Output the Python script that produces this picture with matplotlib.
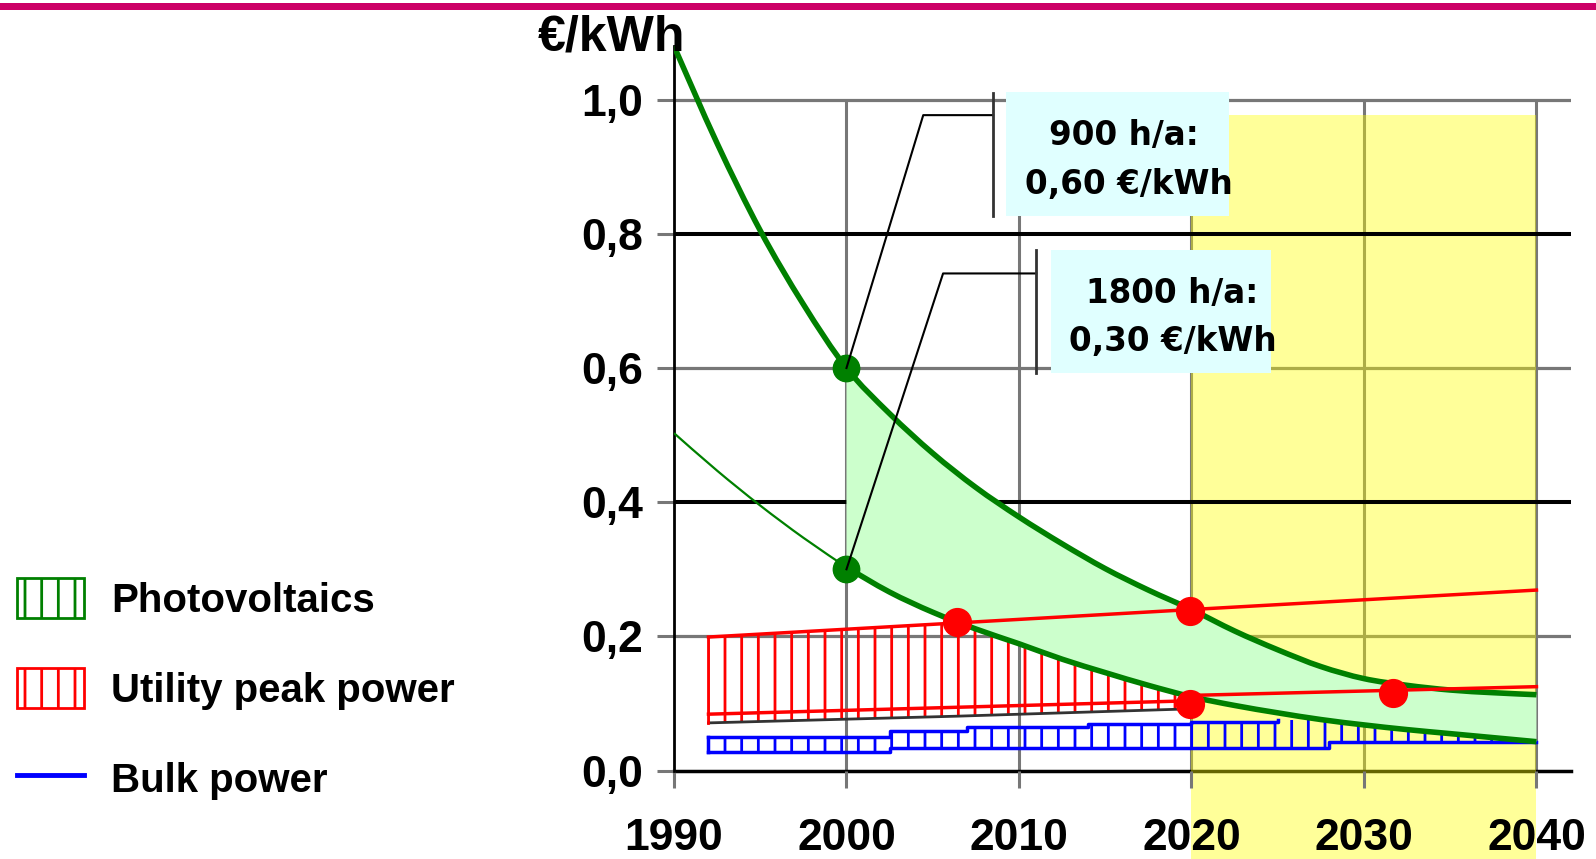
import numpy as np
import matplotlib
matplotlib.use('Agg')
import matplotlib.pyplot as plt
from matplotlib.patches import Patch, Rectangle, PathPatch
from matplotlib.path import Path
from matplotlib.lines import Line2D

plt.rcParams['font.family'] = ['Liberation Sans', 'DejaVu Sans']
plt.rcParams['font.weight'] = 'bold'
plt.rcParams['hatch.linewidth'] = 2.0

# photovoltaics cost curves (EUR/kWh)
pv_years = [1990, 1992.5, 1995, 1997.5, 2000, 2002.5, 2005, 2007.5, 2010, 2012.5, 2015,
            2017.5, 2020, 2022.5, 2025, 2027.5, 2030, 2032.5, 2035, 2037.5, 2040]
pv_900h = [1.08, 0.935, 0.805, 0.695, 0.600, 0.532, 0.473, 0.422, 0.378, 0.338, 0.301,
           0.269, 0.240, 0.208, 0.180, 0.155, 0.137, 0.127, 0.120, 0.116, 0.113]
pv_1800h = [0.503, 0.447, 0.395, 0.347, 0.303, 0.266, 0.236, 0.211, 0.189, 0.166, 0.146,
            0.127, 0.110, 0.097, 0.086, 0.076, 0.068, 0.061, 0.055, 0.049, 0.043]
pv_marks_years = [2000, 2000]
pv_marks = [0.60, 0.30]

# utility peak power
peak_years = [1992, 2006.4, 2020, 2031.7, 2040]
peak_top = [0.199, 0.220, 0.240, 0.257, 0.269]
peak_floor = [0.071, 0.081, 0.092]          # lower edge of the hatched band, 1992-2020
peak_low_years = [1992, 2020, 2020, 2040]
peak_low = [0.084, 0.104, 0.112, 0.125]
peak_dot_years = [2006.4, 2019.9, 2019.9, 2031.7]
peak_dots = [0.222, 0.238, 0.099, 0.115]

# bulk power (stepped band)
bulk_years = [1992, 2002.5, 2007, 2014, 2020, 2025, 2028, 2040]
bulk_low = [0.028, 0.034, 0.034, 0.034, 0.034, 0.034, 0.042, 0.042]
bulk_high = [0.050, 0.059, 0.065, 0.069, 0.073, 0.075, 0.075, 0.075]

x_ticks = [1990, 2000, 2010, 2020, 2030, 2040]
x_labels = ['1990', '2000', '2010', '2020', '2030', '2040']
y_ticks = [0.0, 0.2, 0.4, 0.6, 0.8, 1.0]
y_labels = ['0,0', '0,2', '0,4', '0,6', '0,8', '1,0']

GREEN = '#008000'
GRAY = '#777777'


def smooth(xs, ys):
    # catmull-rom through the read points, as bezier segments
    pts = np.column_stack([xs, ys]).astype(float)
    verts = [pts[0]]
    codes = [Path.MOVETO]
    n = len(pts)
    for i in range(n - 1):
        p0 = pts[max(i - 1, 0)]
        p1, p2 = pts[i], pts[i + 1]
        p3 = pts[min(i + 2, n - 1)]
        verts += [p1 + (p2 - p0) / 6, p2 - (p3 - p1) / 6, p2]
        codes += [Path.CURVE4] * 3
    return verts, codes


fig = plt.figure(figsize=(15.96, 8.59), dpi=100)
ax = fig.add_axes([0.4223, 0.1030, 0.562, 0.8434])
ax.set_xlim(1990, 2042)
ax.set_ylim(0, 1.08)

# grid: 0.4 and 0.8 black, others gray
for y in y_ticks[1:]:
    if y in (0.4, 0.8):
        ax.axhline(y, color='black', lw=2.9, zorder=1.7)
    else:
        ax.axhline(y, color=GRAY, lw=2.3, zorder=1)
ax.vlines(x_ticks[1:], 0, 1.0, color=GRAY, lw=2.2, zorder=1)

# yellow highlight 2020-2040
ax.add_patch(Rectangle((2020, -0.14), 20, 0.977 + 0.14, facecolor='#ffff00', alpha=0.4,
                       lw=0, zorder=1.5, clip_on=False))

# utility peak power band
ax.fill_between(peak_years[:3], peak_floor, peak_top[:3], facecolor='none', edgecolor='red',
                hatch='|', lw=0, zorder=2)
ax.plot(peak_years[:3], peak_floor, color='#333333', lw=2, zorder=2.1)
ax.plot([peak_years[0]] * 2, [peak_floor[0], peak_top[0]], color='red', lw=2, zorder=2.1)

# bulk power band
ax.fill_between(bulk_years, bulk_low, bulk_high, step='post', facecolor='none',
                edgecolor='blue', hatch='|', lw=0, zorder=2)
ax.step(bulk_years, bulk_low, where='post', color='blue', lw=2.5, zorder=2.2)
ax.step(bulk_years[:6], bulk_high[:6], where='post', color='blue', lw=2.5, zorder=2.2)
ax.plot([bulk_years[0]] * 2, [bulk_low[0], bulk_high[0]], color='blue', lw=2.5, zorder=2.2)

# PV band between 900 h/a and 1800 h/a curves (from 2000 on)
up_v, up_c = smooth(pv_years[4:], pv_900h[4:])
lo_v, lo_c = smooth(pv_years[4:][::-1], pv_1800h[4:][::-1])
band = Path(up_v + lo_v + [up_v[0]], up_c + [Path.LINETO] + lo_c[1:] + [Path.CLOSEPOLY])
ax.add_patch(PathPatch(band, facecolor='#ccffcc', lw=0, zorder=3))

v, c = smooth(pv_years, pv_900h)
ax.add_patch(PathPatch(Path(v, c), facecolor='none', edgecolor=GREEN, lw=4, zorder=4))
v, c = smooth(pv_years[:5], pv_1800h[:5])
ax.add_patch(PathPatch(Path(v, c), facecolor='none', edgecolor=GREEN, lw=1.6, zorder=4))
v, c = smooth(pv_years[4:], pv_1800h[4:])
ax.add_patch(PathPatch(Path(v, c), facecolor='none', edgecolor=GREEN, lw=4, zorder=4))

# red lines and dots
ax.plot(peak_years, peak_top, color='red', lw=2.5, zorder=4.5)
ax.plot(peak_low_years, peak_low, color='red', lw=2.5, zorder=4.5)
ax.plot(peak_dot_years, peak_dots, 'o', color='red', ms=20, zorder=5)
ax.plot(pv_marks_years, pv_marks, 'o', color=GREEN, ms=19, zorder=5)

# annotation boxes with connectors
ax.plot([2000, 2004.45, 2008.5], [0.60, 0.977, 0.977], color='black', lw=1.5, zorder=5.5)
ax.plot([2008.5, 2008.5], [0.826, 1.010], color='#333333', lw=2, zorder=5.5)
ax.add_patch(Rectangle((2009.25, 0.826), 12.95, 0.186, facecolor='#e0ffff', lw=0, zorder=6))
ax.text(2016.1, 0.947, '900 h/a:', ha='center', va='center', fontsize=23.5,
        family='DejaVu Sans', zorder=7)
ax.text(2016.4, 0.873, '0,60 €/kWh', ha='center', va='center', fontsize=23.5,
        family='DejaVu Sans', zorder=7)

ax.plot([2000, 2005.6, 2011.0], [0.30, 0.741, 0.741], color='black', lw=1.5, zorder=5.5)
ax.plot([2011.0, 2011.0], [0.592, 0.776], color='#333333', lw=2, zorder=5.5)
ax.add_patch(Rectangle((2011.85, 0.592), 12.75, 0.184, facecolor='#e0ffff', lw=0, zorder=6))
ax.text(2018.9, 0.711, '1800 h/a:', ha='center', va='center', fontsize=23.5,
        family='DejaVu Sans', zorder=7)
ax.text(2018.9, 0.640, '0,30 €/kWh', ha='center', va='center', fontsize=23.5,
        family='DejaVu Sans', zorder=7)

# axes styling
ax.set_xticks(x_ticks, x_labels)
ax.set_yticks(y_ticks, y_labels)
ax.tick_params(axis='x', length=12, width=2.2, pad=22, color=GRAY, labelsize=32)
ax.tick_params(axis='y', length=12, width=2.2, pad=10, color=GRAY, labelsize=32)
ax.spines['top'].set_visible(False)
ax.spines['right'].set_visible(False)
ax.spines['left'].set_linewidth(2)
ax.spines['bottom'].set_linewidth(2.5)
ax.spines['bottom'].set_zorder(1)

fig.text(685 / 1596, 1 - 50 / 859, '€/kWh', ha='right', va='baseline', fontsize=36)

# magenta band on top
fig.add_artist(Rectangle((0, 1 - 10 / 859), 1, 7 / 859, transform=fig.transFigure,
                         color='#cc0066', lw=0))

handles = [Patch(facecolor='white', edgecolor=GREEN, hatch='|', lw=2),
           Patch(facecolor='white', edgecolor='red', hatch='|', lw=2),
           Line2D([], [], color='blue', lw=3.5)]
labels = ['Photovoltaics', 'Utility peak power', 'Bulk power']
fig.legend(handles, labels, loc='center left', bbox_to_anchor=(0.0107, 0.198), frameon=False,
           fontsize=29, handlelength=1.65, handleheight=1.15, handletextpad=0.68,
           labelspacing=1.2, borderpad=0, borderaxespad=0)

fig.savefig('out.png', dpi=100)
